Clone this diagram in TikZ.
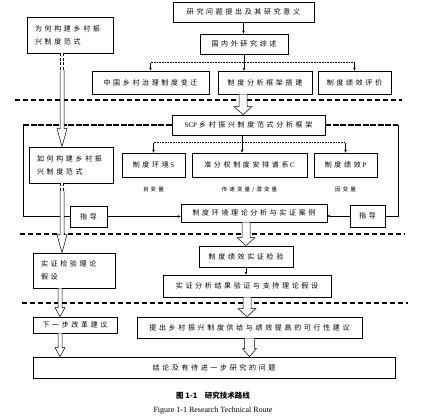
\documentclass[tikz,border=0pt]{standalone}
\usepackage{fontspec}
\setmainfont{Liberation Serif}
\newfontfamily\cjk[LetterSpace=38]{Noto Sans CJK SC}
\newfontfamily\cjkcap{Noto Sans CJK SC}
\usetikzlibrary{arrows.meta,shadows,positioning,calc}
% hollow arrow pointing down: from, to, stem half width, head half width, head length
\newcommand{\hollowarrow}[5]{%
	\draw[line width=0.5pt,fill=white] let \p1=(#1), \p2=(#2) in
		(\x1-#3pt,\y1) -- (\x1-#3pt,\y2+#5pt) -- (\x1-#4pt,\y2+#5pt) -- (\x1,\y2)
		-- (\x1+#4pt,\y2+#5pt) -- (\x1+#3pt,\y2+#5pt) -- (\x1+#3pt,\y1);}

\begin{document}
\begin{tikzpicture}[x=1pt,y=-1pt,
	every node/.style={font=\cjk\fontsize{7}{13}\selectfont},
	box/.style 2 args={draw,line width=0.8pt,fill=white,inner sep=1pt,
		minimum width=#1pt,minimum height=#2pt,
		drop shadow={shadow xshift=0.8pt,shadow yshift=-0.8pt,opacity=1,fill=black}},
	note/.style={font=\cjk\fontsize{5.5}{7}\selectfont},
	thinarrow/.style={-{Stealth[length=3pt,width=2.6pt]},line width=0.4pt},
	chain/.style={double,double distance=2.5pt,line width=0.6pt,dash pattern=on 3pt off 1.5pt},
	sep/.style={line width=1.1pt,dash pattern=on 5pt off 3pt},
	bus/.style={line width=1pt,dash pattern=on 1pt off 0.6pt},
	framedash/.style={line width=1.4pt,dash pattern=on 6pt off 1.5pt}]
	\useasboundingbox (0,0) rectangle (430,419);
	% separators
	\draw[sep] (15,100) -- (402,100);
	\draw[sep] (20,234) -- (405,234);
	\draw[sep] (22,303) -- (408,303);
	\node[box={141}{20}] (q) at (243.5,12) {研究问题提出及其研究意义};
	\node[box={88}{20}] (lit) at (244,44) {国内外研究综述};
	\node[box={117}{23}] (c1) at (150.5,82.5) {中国乡村治理制度变迁};
	\node[box={94}{23}] (c2) at (265,82.5) {制度分析框架搭建};
	\node[box={73}{23}] (c3) at (354.5,82.5) {制度绩效评价};
	\node[box={86}{36},align=left,text width=70pt] (why) at (70,35) {为何构建乡村振\\兴制度范式};
	\node[box={153}{20}] (scp) at (248.5,125) {{\rmfamily SCP}\hspace{2pt}乡村振兴制度范式分析框架};
	\node[box={84}{36},align=left,text width=68pt] (how) at (71,165) {如何构建乡村振\\兴制度范式};
	\node[box={63}{24}] (s) at (153.5,165) {制度环境\hspace{1.5pt}{\rmfamily S}};
	\node[box={115}{24}] (cc) at (249.5,165) {准分权制度安排谱系\hspace{1.5pt}{\rmfamily C}};
	\node[box={63}{24}] (p) at (345.5,165) {制度绩效\hspace{1.5pt}{\rmfamily P}};
	\node[note,below=6pt of s] (sl) {自变量};
	\node[note,below=6pt of cc] (ccl) {传递变量/潜变量};
	\node[note,below=6pt of p] (pl) {因变量};
	\node[box={37}{21}] (g1) at (88.5,216.5) {指导};
	\node[box={146}{18}] (case) at (254,213) {制度环境理论分析与实证案例};
	\node[box={35}{22}] (g2) at (367.5,216) {指导};
	\node[box={94}{21}] (exam) at (246,256.5) {制度绩效实证检验};
	\node[box={168}{22}] (res) at (247,286) {实证分析结果验证与支持理论假设};
	\node[box={82}{35},align=left,text width=66pt] (test) at (74,270.5) {实证检验理论\\假设};
	\node[box={84}{16}] (next) at (75,325) {下一步改革建议};
	\node[box={225}{21}] (prop) at (249.5,327.5) {提出乡村振兴制度供给与绩效提高的可行性建议};
	\node[box={362}{21}] (concl) at (214,367.5) {结论及有待进一步研究的问题};
	\node[font=\cjkcap\bfseries\fontsize{7.5}{9}\selectfont] (cap) at (213,396) {图 1-1\quad 研究技术路线};
	\node[font=\rmfamily\fontsize{8}{9}\selectfont] (capen) at (213,411) {Figure 1-1 Research Technical Route};
	% top part
	\draw[thinarrow] (q.south) -- (q.south |- lit.north);
	\coordinate (b1) at (244,63);
	\draw[line width=0.4pt] (lit.south) -- (b1);
	\draw[bus] (b1 -| c1) -- (b1 -| c3);
	\draw[thinarrow] (b1 -| c1) -- (c1.north);
	\draw[thinarrow] (b1) -- (b1 |- c2.north);
	\draw[thinarrow] (b1 -| c3) -- (c3.north);
	\hollowarrow{[xshift=-22pt]c2.south}{[xshift=-22pt]c2.south |- scp.north}{4}{9}{8}
	% frame round the SCP part
	\coordinate (fl) at (23,125);
	\coordinate (fr) at (398,125);
	\draw[framedash] (scp.west) -- (fl);
	\draw[line width=0.5pt] (fl) -- (fl |- g1.west) -- (g1.west);
	\draw[framedash] (scp.east) -- (fr);
	\draw[line width=0.5pt] (fr) -- (fr |- g2.east) -- (g2.east);
	\draw[thinarrow] (g1.east) -- (g1.east -| case.west);
	\draw[thinarrow] (g2.west) -- (g2.west -| case.east);
	\coordinate (b2) at (242,143);
	\draw[line width=0.4pt] (b2 |- scp.south) -- (b2);
	\draw[bus] (b2 -| s) -- (b2 -| p);
	\draw[thinarrow] (b2 -| s) -- (s.north);
	\draw[thinarrow] (b2) -- (b2 |- cc.north);
	\draw[thinarrow] (b2 -| p) -- (p.north);
	% lower part
	\hollowarrow{case.south -| exam}{exam.north}{4}{9}{8}
	\draw[thinarrow] (exam.south) -- (exam.south |- res.north);
	\hollowarrow{res.south}{res.south |- prop.north}{4}{9}{8}
	\hollowarrow{prop.south}{prop.south |- concl.north}{5}{7}{8}
	% left column
	\draw[chain] ([xshift=-8pt]why.south) -- ++(0,17) coordinate (w1);
	\hollowarrow{w1}{w1 |- how.north}{2}{5}{18}
	\draw[chain] ([xshift=-9pt]how.south) -- ++(0,8) coordinate (h1);
	\hollowarrow{h1}{h1 |- test.north}{2}{5}{18}
	\hollowarrow{[xshift=-14pt]test.south}{[xshift=-14pt]test.south |- next.north}{2}{5}{9}
	\hollowarrow{[xshift=-15pt]next.south}{[xshift=-15pt]next.south |- concl.north}{2}{5}{9}
\end{tikzpicture}
\end{document}
